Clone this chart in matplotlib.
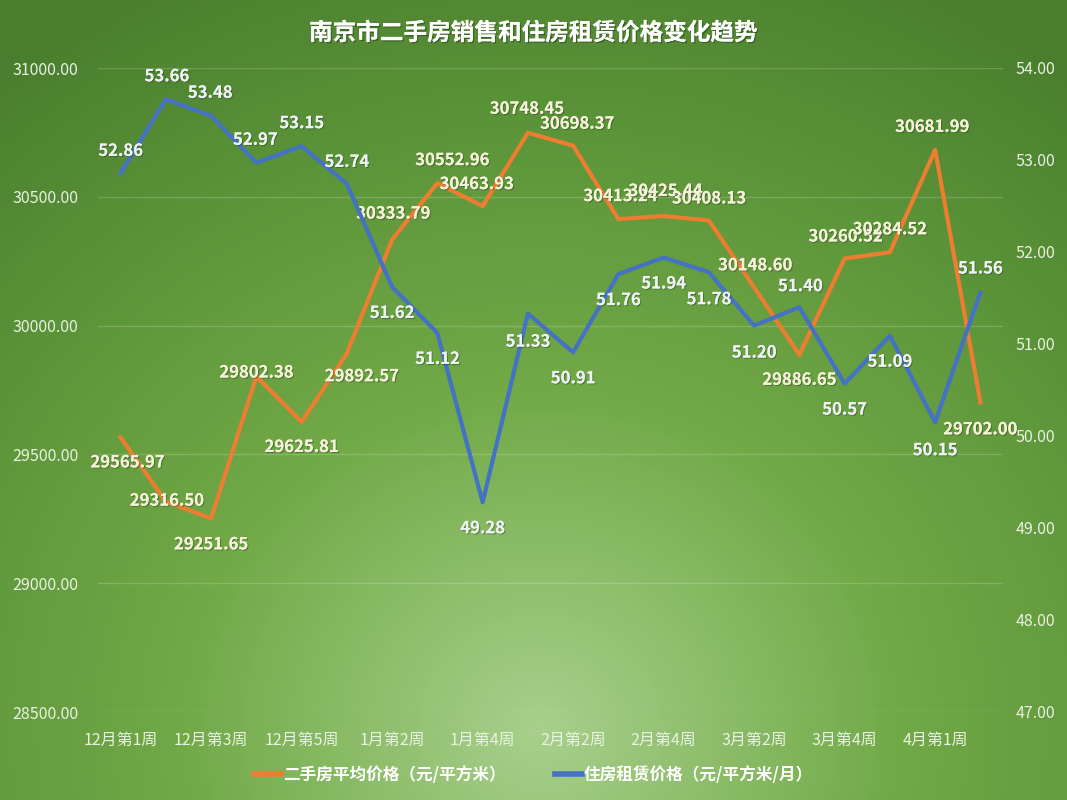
import numpy as np
import matplotlib
matplotlib.use("Agg")
import matplotlib.pyplot as plt
import matplotlib.patheffects as pe
from matplotlib.colors import LinearSegmentedColormap

plt.rcParams['font.family'] = ['Noto Sans CJK SC', 'DejaVu Sans']

weeks = ["12月第1周", "12月第2周", "12月第3周", "12月第4周", "12月第5周",
         "1月第1周", "1月第2周", "1月第3周", "1月第4周",
         "2月第1周", "2月第2周", "2月第3周", "2月第4周",
         "3月第1周", "3月第2周", "3月第3周", "3月第4周", "3月第5周",
         "4月第1周", "4月第2周"]
sale_price = [29565.97, 29316.50, 29251.65, 29802.38, 29625.81, 29892.57, 30333.79,
              30552.96, 30463.93, 30748.45, 30698.37, 30413.24, 30425.44, 30408.13,
              30148.60, 29886.65, 30260.52, 30284.52, 30681.99, 29702.00]
rent_price = [52.86, 53.66, 53.48, 52.97, 53.15, 52.74, 51.62, 51.12, 49.28, 51.33,
              50.91, 51.76, 51.94, 51.78, 51.20, 51.40, 50.57, 51.09, 50.15, 51.56]
sale_name = "二手房平均价格（元/平方米）"
rent_name = "住房租赁价格（元/平方米/月）"
title = "南京市二手房销售和住房租赁价格变化趋势"

# label offsets in pixels (dx right, dy up) -- hand placed like the original
sale_off = [(7, -25), (1, 1), (0, -26), (0, 4), (0, -25), (15, -23), (1, 26), (15, 23),
            (-6, 22), (-1, 24), (4, 22), (2, 23), (2, 25), (0, 22), (1, 22), (0, -25),
            (1, 22), (0, 23), (-3, 23), (0, -27)]
rent_off = [(0, 22), (1, 23), (-1, 23), (-1, 23), (0, 23), (0, 22), (0, -26), (0, -26),
            (0, -26), (0, -28), (0, -26), (0, -26), (0, -26), (0, -27), (0, -27), (1, 21),
            (0, -26), (0, -26), (0, -28), (0, 24)]

ORANGE, BLUE = "#ED7D31", "#4472C4"
TXT = "#EAF2E2"

fig = plt.figure(figsize=(10.67, 8), dpi=100)

# radial green background
bg = fig.add_axes([0, 0, 1, 1], zorder=-10)
yy, xx = np.mgrid[0:800, 0:1067]
d = np.hypot(xx - 540, (yy - 730) * 1.05) / 800
cmap = LinearSegmentedColormap.from_list(
    "bg", [(0, "#A8D08C"), (0.4, "#72AA48"), (0.75, "#5A9238"), (1, "#4A7E2E")])
bg.imshow(np.clip(d / 1.1, 0, 1), cmap=cmap, vmin=0, vmax=1, aspect="auto",
          extent=[0, 1, 0, 1], origin="upper")
bg.axis("off")

ax = fig.add_axes([98 / 1067, 1 - 712 / 800, 905 / 1067, 644 / 800])
ax2 = ax.twinx()
for a in (ax, ax2):
    a.patch.set_visible(False)
    for s in a.spines.values():
        s.set_visible(False)
    a.tick_params(length=0, colors=TXT, labelsize=11.5)

x = np.arange(len(weeks))
ax.plot(x, sale_price, color=ORANGE, lw=3, solid_joinstyle="round", label=sale_name)
ax2.plot(x, rent_price, color=BLUE, lw=3, solid_joinstyle="round", label=rent_name)

ax.set_xlim(-0.5, len(weeks) - 0.5)
ax.set_ylim(28500, 31000)
ax.set_yticks(np.arange(28500, 31001, 500))
ax.yaxis.set_major_formatter(matplotlib.ticker.StrMethodFormatter("{x:.2f}"))
ax.tick_params(axis="y", pad=14)
ax2.set_ylim(47, 54)
ax2.set_yticks(np.arange(47, 54.1, 1))
ax2.yaxis.set_major_formatter(matplotlib.ticker.StrMethodFormatter("{x:.2f}"))
ax2.tick_params(axis="y", pad=9)
ax.set_xticks(x[::2])
ax.set_xticklabels(weeks[::2], fontsize=11.5)
ax.tick_params(axis="x", pad=14)
ax.grid(axis="y", color="white", alpha=0.18, lw=1)
ax.set_axisbelow(True)

px = 72 / 100
shadow = [pe.withSimplePatchShadow(offset=(0.8, -0.8), shadow_rgbFace="#2c4a1c", alpha=0.5), pe.Normal()]
for xi, v, (dx, dy) in zip(x, sale_price, sale_off):
    ax.annotate(f"{v:.2f}", (xi, v), xytext=(dx * px, dy * px), textcoords="offset points",
                ha="center", va="center", fontsize=12, fontweight="bold", color="#F6F2DA",
                zorder=5, path_effects=shadow)
for xi, v, (dx, dy) in zip(x, rent_price, rent_off):
    ax2.annotate(f"{v:.2f}", (xi, v), xytext=(dx * px, dy * px), textcoords="offset points",
                 ha="center", va="center", fontsize=12, fontweight="bold", color="#EEF2F4",
                 zorder=5, path_effects=shadow)

fig.text(0.5, 1 - 33 / 800, title, ha="center", va="center", fontsize=17,
         fontweight="bold", color="white",
         path_effects=[pe.withSimplePatchShadow(offset=(1, -1), shadow_rgbFace="#2c4a1c", alpha=0.6), pe.Normal()])

h1, l1 = ax.get_legend_handles_labels()
h2, l2 = ax2.get_legend_handles_labels()
leg = fig.legend(h1 + h2, l1 + l2, loc="center", bbox_to_anchor=(0.5, 1 - 775 / 800),
                 ncol=2, frameon=False, fontsize=12, handlelength=1.6, handletextpad=0.1,
                 columnspacing=3)
for t in leg.get_texts():
    t.set_color("white")
    t.set_fontweight("bold")
for ln in leg.get_lines():
    ln.set_linewidth(4)

fig.savefig("out.png", dpi=100)
